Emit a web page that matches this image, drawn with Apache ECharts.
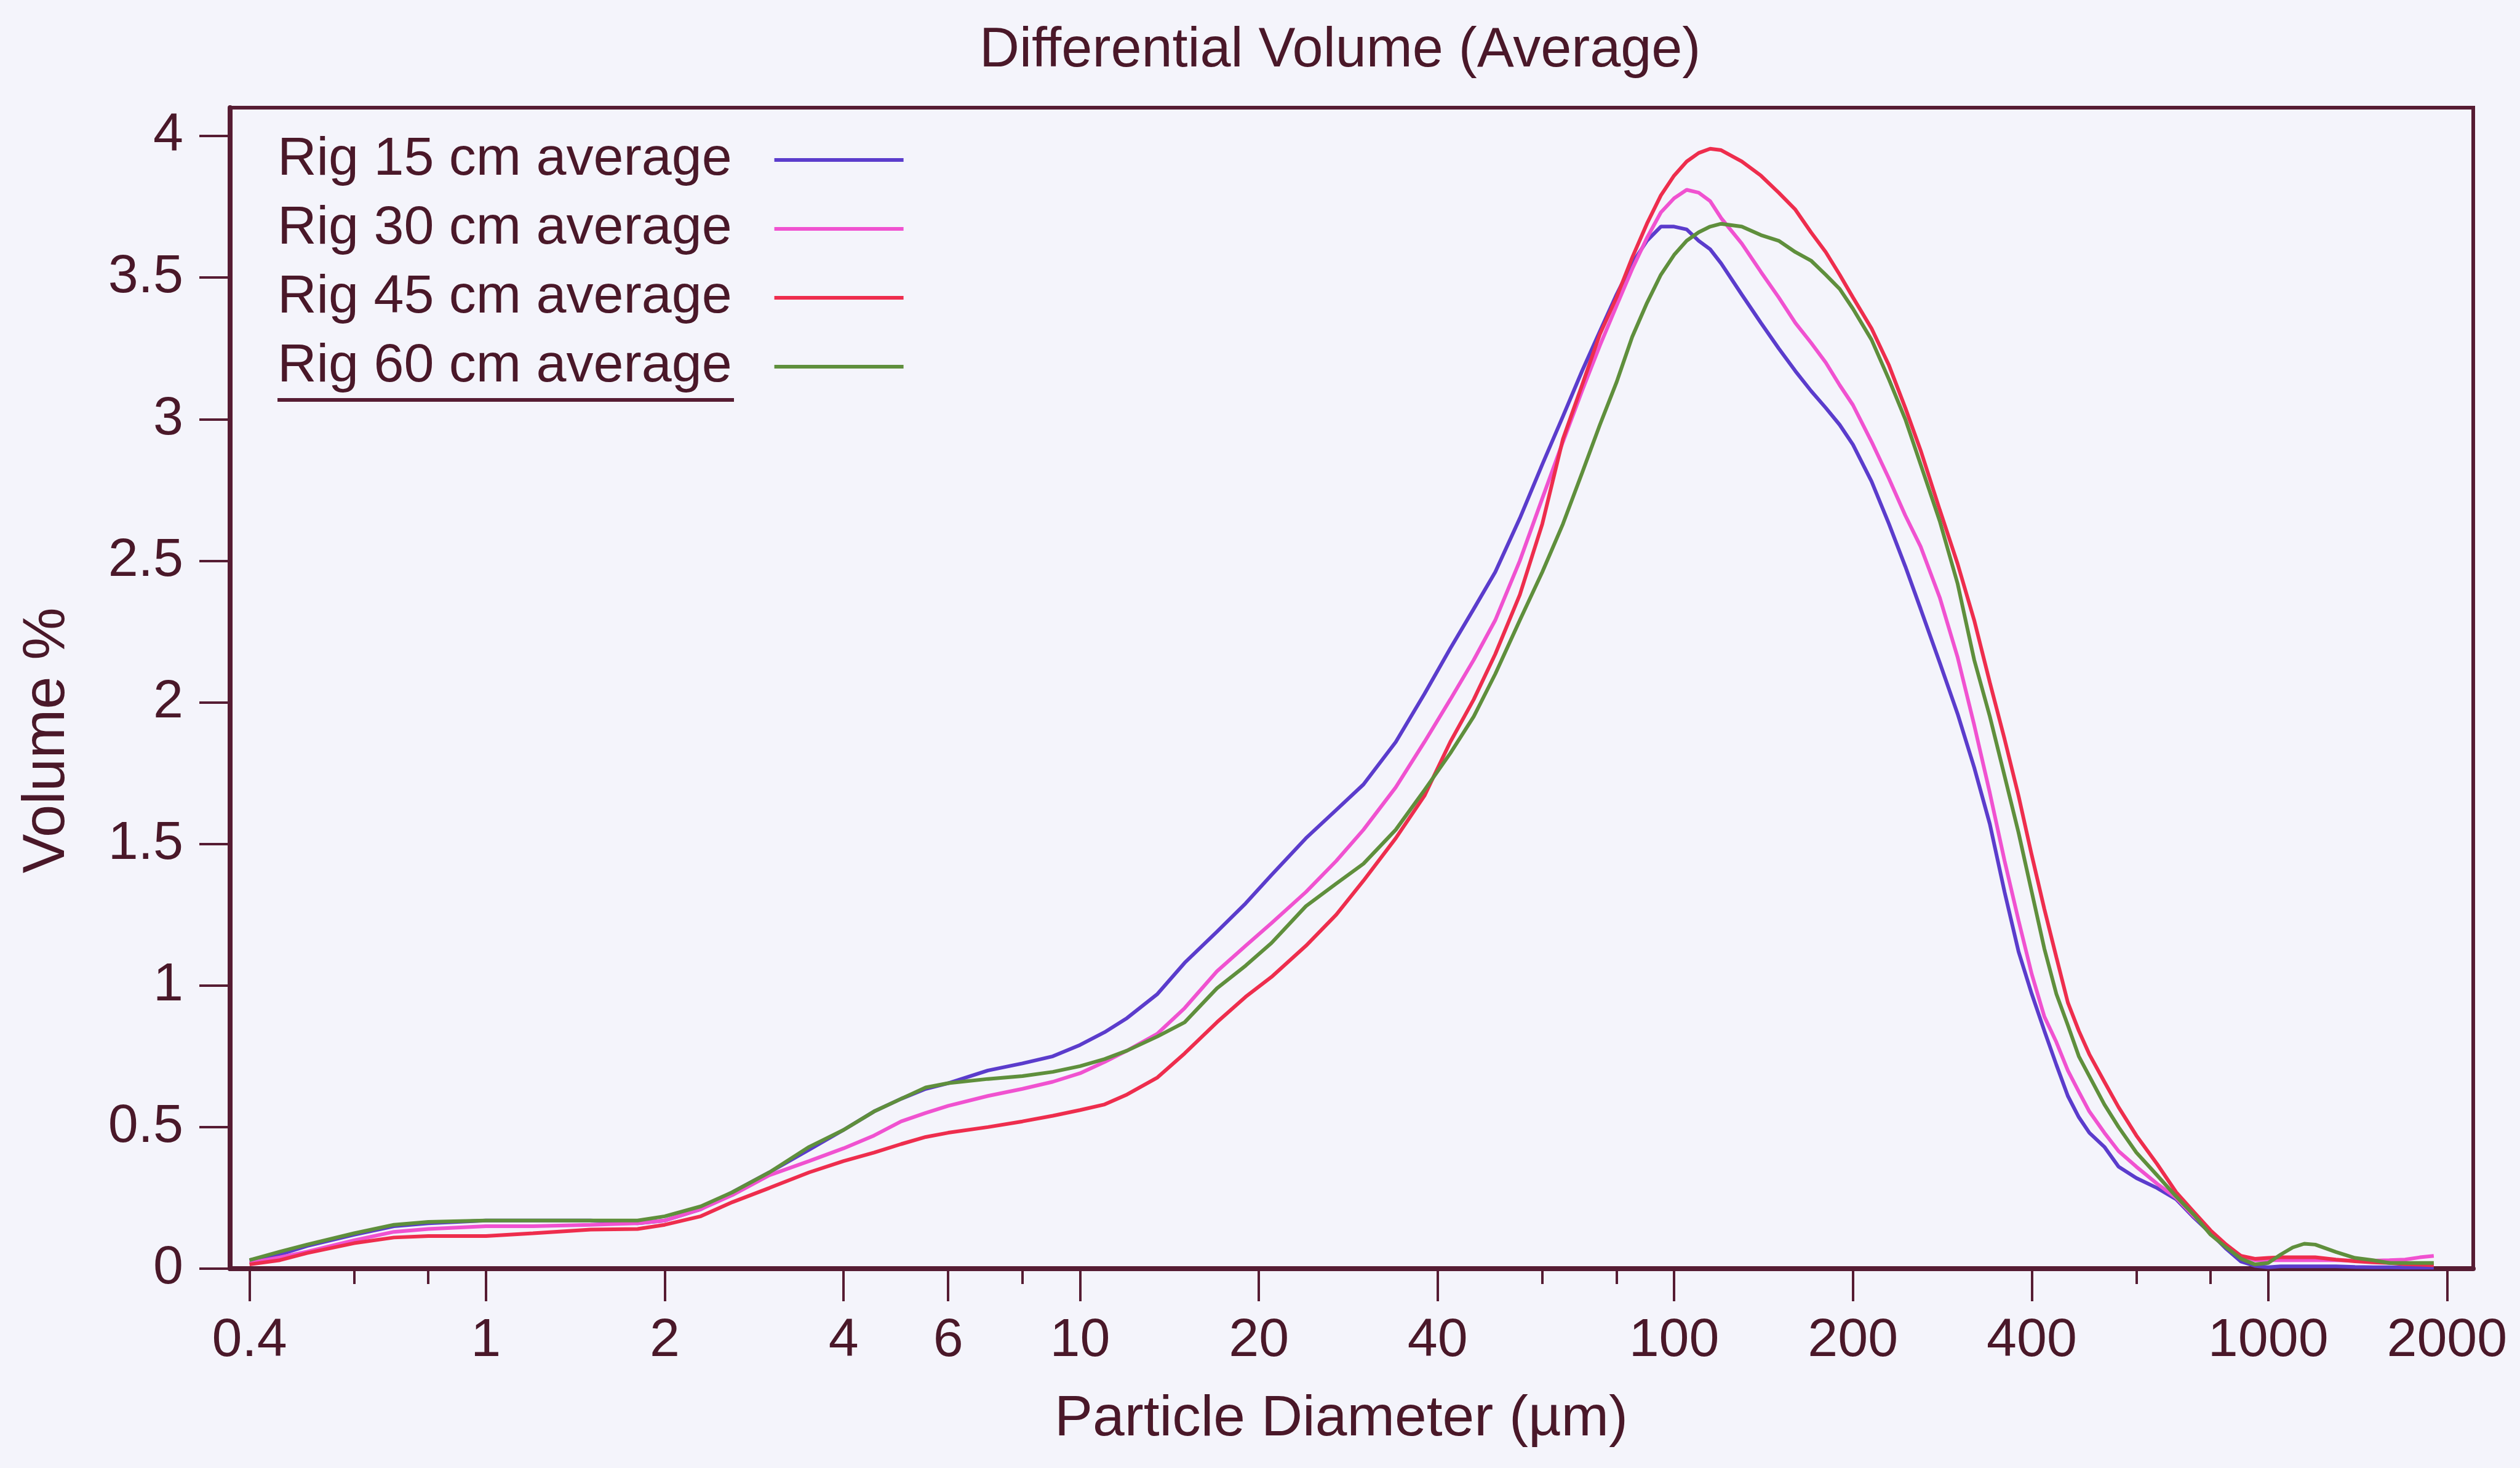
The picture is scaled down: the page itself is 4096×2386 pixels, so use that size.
<!DOCTYPE html>
<html><head><meta charset="utf-8">
<script src="https://cdn.jsdelivr.net/npm/echarts@6/dist/echarts.min.js"></script>
<style>html,body{margin:0;padding:0;background:#f4f4fb;}#c{width:4096px;height:2386px;}</style>
</head><body><div id="c"></div>
<script>
const chartTitle = 'Differential Volume (Average)';
const xTitle = 'Particle Diameter (µm)';
const yTitle = 'Volume %';
const seriesNames = ['Rig 15 cm average', 'Rig 30 cm average', 'Rig 45 cm average', 'Rig 60 cm average'];
const xMajorTicks = [0.4, 1, 2, 4, 6, 10, 20, 40, 100, 200, 400, 1000, 2000];
const xMinorTicks = [0.6, 0.8, 8, 60, 80, 600, 800];
const yTicks = [0, 0.5, 1, 1.5, 2, 2.5, 3, 3.5, 4];

const diameters = [0.4,0.45,0.5,0.6,0.7,0.8,1,1.2,1.5,1.8,2,2.3,2.6,3,3.5,4,4.5,5,5.5,6,7,8,9,10,11,12,13.5,15,17,19,21,24,27,30,34,38,42,46,50,55,60,65,70,75,80,85,90,95,100,105,110,115,120,130,140,150,160,170,180,190,200,215,230,245,260,280,300,320,340,360,380,400,420,440,460,480,500,530,560,600,650,700,750,800,850,900,950,1000,1050,1100,1150,1200,1300,1400,1500,1600,1700,1800,1900];

const rig15 = [0.03,0.05,0.08,0.12,0.15,0.16,0.17,0.17,0.17,0.16,0.17,0.21,0.27,0.34,0.42,0.49,0.555,0.60,0.635,0.655,0.70,0.725,0.75,0.79,0.835,0.885,0.97,1.08,1.19,1.29,1.39,1.52,1.62,1.71,1.86,2.03,2.19,2.33,2.46,2.65,2.84,3.01,3.17,3.31,3.44,3.55,3.63,3.68,3.68,3.67,3.63,3.60,3.55,3.44,3.34,3.25,3.17,3.10,3.04,2.98,2.91,2.78,2.63,2.48,2.33,2.14,1.96,1.77,1.57,1.33,1.12,0.97,0.84,0.72,0.61,0.535,0.48,0.43,0.36,0.32,0.285,0.245,0.18,0.125,0.07,0.025,0.01,0.005,0.008,0.008,0.008,0.008,0.008,0.006,0.005,0.005,0.004,0.004,0.004];

const rig30 = [0.02,0.04,0.06,0.10,0.13,0.14,0.15,0.15,0.155,0.16,0.17,0.21,0.26,0.33,0.38,0.425,0.47,0.52,0.55,0.575,0.61,0.635,0.66,0.69,0.73,0.77,0.83,0.92,1.05,1.14,1.22,1.33,1.44,1.55,1.70,1.86,2.01,2.15,2.29,2.50,2.72,2.92,3.10,3.26,3.40,3.53,3.64,3.73,3.78,3.81,3.80,3.77,3.71,3.62,3.52,3.43,3.34,3.27,3.20,3.12,3.05,2.92,2.79,2.66,2.55,2.37,2.16,1.92,1.68,1.44,1.23,1.04,0.89,0.80,0.70,0.625,0.555,0.48,0.415,0.36,0.30,0.25,0.185,0.13,0.08,0.045,0.03,0.03,0.03,0.03,0.03,0.03,0.03,0.028,0.028,0.03,0.032,0.04,0.045];

const rig45 = [0.015,0.03,0.055,0.09,0.11,0.115,0.115,0.125,0.138,0.14,0.155,0.185,0.235,0.285,0.34,0.38,0.41,0.44,0.465,0.48,0.50,0.52,0.54,0.56,0.58,0.615,0.675,0.76,0.87,0.96,1.03,1.14,1.25,1.37,1.52,1.67,1.86,2.01,2.17,2.38,2.63,2.93,3.12,3.30,3.43,3.57,3.69,3.79,3.86,3.91,3.94,3.955,3.95,3.91,3.86,3.80,3.74,3.66,3.59,3.51,3.43,3.32,3.19,3.04,2.89,2.68,2.49,2.29,2.07,1.87,1.67,1.46,1.27,1.10,0.94,0.84,0.757,0.66,0.57,0.47,0.37,0.27,0.20,0.135,0.085,0.045,0.035,0.038,0.04,0.04,0.04,0.04,0.032,0.026,0.022,0.02,0.016,0.014,0.012];

const rig60 = [0.03,0.06,0.085,0.125,0.155,0.165,0.17,0.17,0.17,0.17,0.185,0.22,0.27,0.34,0.43,0.49,0.555,0.60,0.64,0.655,0.67,0.68,0.695,0.715,0.74,0.77,0.82,0.87,0.99,1.07,1.15,1.28,1.36,1.43,1.55,1.69,1.82,1.95,2.10,2.29,2.46,2.63,2.81,2.98,3.13,3.29,3.41,3.51,3.58,3.63,3.66,3.68,3.69,3.68,3.65,3.63,3.59,3.56,3.51,3.46,3.39,3.28,3.14,3.00,2.84,2.64,2.42,2.15,1.95,1.74,1.54,1.33,1.13,0.97,0.86,0.75,0.68,0.58,0.50,0.41,0.33,0.255,0.19,0.12,0.075,0.035,0.015,0.02,0.05,0.075,0.088,0.085,0.059,0.038,0.03,0.02,0.02,0.02,0.02];

const seriesValues = [rig15, rig30, rig45, rig60];
const INK = '#561c33';
const TXT = '#4a1829';
const FONT = 'Liberation Sans, Arial, sans-serif';
const colors = ['#5b3ccc', '#f052d0', '#ee2d4d', '#5f8f3c'];

const chart = echarts.init(document.getElementById('c'), null, {renderer: 'canvas'});
const xBase = {
  type: 'log', logBase: 10, min: 0.371, max: 2214, gridIndex: 0, position: 'bottom',
  splitLine: {show: false}, minorTick: {show: false}
};
chart.setOption({
  animation: false,
  backgroundColor: '#f4f4fb',
  color: colors,
  title: {
    text: chartTitle, left: 1592, top: 38, padding: 0,
    textStyle: {fontFamily: FONT, fontSize: 90, fontWeight: 'normal', color: TXT}
  },
  grid: {
    left: 374, right: 76, top: 175, bottom: 324, containLabel: false, outerBoundsMode: 'none',
    show: true, borderColor: INK, borderWidth: 6, backgroundColor: 'transparent'
  },
  legend: {
    orient: 'vertical', left: 451, top: 215, padding: 0,
    align: 'right', icon: 'rect', itemWidth: 210, itemHeight: 6, itemGap: 22,
    textStyle: {fontFamily: FONT, fontSize: 88, color: TXT, lineHeight: 90, padding: [0, 64, 0, 0]},
    data: seriesNames
  },
  xAxis: [
    Object.assign({}, xBase, {
      name: xTitle, nameLocation: 'middle', nameGap: 199, nameMoveOverlap: false,
      nameTextStyle: {fontFamily: FONT, fontSize: 93, color: TXT, padding: [0, 34, 0, 0]},
      axisLine: {show: true, onZero: false, lineStyle: {color: INK, width: 8}},
      axisTick: {show: true, inside: false, length: 53, lineStyle: {color: INK, width: 4}, customValues: xMajorTicks},
      axisLabel: {show: true, margin: 74, fontFamily: FONT, fontSize: 88, color: TXT,
        customValues: xMajorTicks, formatter: v => String(+v.toPrecision(6))}
    }),
    Object.assign({}, xBase, {
      axisLine: {show: false, onZero: false},
      axisTick: {show: true, inside: false, length: 25, lineStyle: {color: INK, width: 4}, customValues: xMinorTicks},
      axisLabel: {show: false}
    })
  ],
  yAxis: {
    type: 'value', min: 0, max: 4.1, interval: 0.5,
    name: yTitle, nameLocation: 'middle', nameGap: 248,
    nameTextStyle: {fontFamily: FONT, fontSize: 96, color: TXT, padding: [0, 170, 0, 0]},
    splitLine: {show: false},
    axisLine: {show: true, lineStyle: {color: INK, width: 8}},
    axisTick: {show: true, inside: false, length: 50, lineStyle: {color: INK, width: 4}, customValues: yTicks},
    axisLabel: {show: true, margin: 76, fontFamily: FONT, fontSize: 88, color: TXT, customValues: yTicks}
  },
  graphic: [{
    type: 'line', z: 100,
    shape: {x1: 451, y1: 650, x2: 1193, y2: 650},
    style: {stroke: INK, lineWidth: 6}
  }],
  series: seriesNames.map((name, i) => ({
    name: name, type: 'line', xAxisIndex: 0, yAxisIndex: 0,
    showSymbol: false, symbol: 'none', smooth: false,
    lineStyle: {width: 6, color: colors[i]},
    data: diameters.map((d, j) => [d, seriesValues[i][j]])
  }))
});
</script></body></html>
